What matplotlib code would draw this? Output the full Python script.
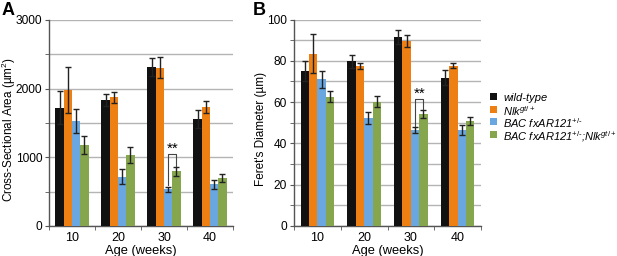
import matplotlib
matplotlib.use("Agg")
import matplotlib.pyplot as plt
from matplotlib.patches import Rectangle
import numpy as np

plt.rcParams['font.family'] = ['Liberation Sans', 'DejaVu Sans']
plt.rcParams['mathtext.fontset'] = 'custom'
plt.rcParams['mathtext.rm'] = 'Liberation Sans'
plt.rcParams['mathtext.it'] = 'Liberation Sans:italic'

ages = [10, 20, 30, 40]
series = ["wild-type", "Nlk$^{\\mathit{gt/+}}$", "BAC fxAR121$^{\\mathit{+/\u2010}}$",
          "BAC fxAR121$^{\\mathit{+/\u2010}}$;Nlk$^{\\mathit{gt/+}}$"]
colors = ["#111111", "#EE7F12", "#6AA6E0", "#86A64E"]

# Panel A: cross-sectional area
area_wt = [1720, 1835, 2320, 1565]
area_wt_err = [240, 92, 132, 131]
area_nlk = [1980, 1874, 2308, 1738]
area_nlk_err = [340, 77, 146, 87]
area_bac = [1533, 718, 534, 607]
area_bac_err = [175, 105, 35, 70]
area_dbl = [1180, 1038, 796, 695]
area_dbl_err = [130, 115, 65, 60]

# Panel B: Feret's diameter
fer_wt = [75.0, 79.7, 91.6, 71.9]
fer_wt_err = [5.0, 3.0, 3.5, 3.5]
fer_nlk = [83.5, 77.4, 89.5, 77.7]
fer_nlk_err = [9.3, 1.5, 3.0, 1.3]
fer_bac = [71.0, 52.4, 46.4, 46.4]
fer_bac_err = [4.0, 3.0, 1.6, 2.4]
fer_dbl = [62.7, 60.2, 54.2, 50.8]
fer_dbl_err = [2.8, 2.8, 2.0, 1.8]

W, H = 617, 256
fig = plt.figure(figsize=(W / 100, H / 100), dpi=100)


def px_axes(x0, x1, ytop, ybot):
    return fig.add_axes([x0 / W, 1 - ybot / H, (x1 - x0) / W, (ybot - ytop) / H])


def panel(ax, vals, errs, ymax, ystep_grid, ystep_label, ylabel, ylab_x, sig):
    x = np.array(ages, dtype=float)
    bw = 1.8
    offs = [-1.5 * bw, -0.5 * bw, 0.5 * bw, 1.5 * bw]
    for v, e, c, o in zip(vals, errs, colors, offs):
        ax.bar(x + o, v, width=bw, color=c, zorder=3)
        ax.errorbar(x + o, v, yerr=e, fmt='none', ecolor='#222222',
                    elinewidth=1.0, capsize=2.2, capthick=1.0, zorder=4)
    ax.set_xlim(5, 45)
    ax.set_ylim(0, ymax)
    ax.set_yticks(np.arange(0, ymax + 1e-9, ystep_grid), minor=True)
    ax.set_yticks(np.arange(0, ymax + 1e-9, ystep_label))
    ax.yaxis.grid(True, which='both', color='#b4b4b4', lw=1.0, zorder=0)
    ax.set_xticks(ages)
    ax.set_xticks([5, 15, 25, 35, 45], minor=True)
    ax.tick_params(axis='x', which='major', length=0, labelsize=9, pad=4)
    ax.tick_params(axis='x', which='minor', length=3, color='#555555')
    ax.tick_params(axis='y', which='both', length=3, color='#555555', labelsize=8.6, pad=2)
    for s in ['top', 'right']:
        ax.spines[s].set_visible(False)
    for s in ['left', 'bottom']:
        ax.spines[s].set_color('#555555')
        ax.spines[s].set_linewidth(1.0)
    ax.set_xlabel("Age (weeks)", fontsize=9.3)
    ax.xaxis.set_label_coords(0.5, (226 - 245) / 206)
    ax.set_ylabel(ylabel, fontsize=8.5, va='center')
    ax.yaxis.set_label_coords(ylab_x, 0.47)
    # significance bracket at 30 weeks between BAC and double
    xl = 30 + offs[2]
    xr = 30 + offs[3]
    yl, yr, ytop, ytxt = sig
    ax.plot([xl, xl, xr, xr], [yl, ytop, ytop, yr], color='#444444', lw=0.8, zorder=5)
    ax.text((xl + xr) / 2, ytxt, "**", ha='center', va='center', fontsize=11, zorder=6)


axA = px_axes(49, 233, 20, 226)
panel(axA,
      [area_wt, area_nlk, area_bac, area_dbl],
      [area_wt_err, area_nlk_err, area_bac_err, area_dbl_err],
      3000, 500, 1000, "Cross-Sectional Area (µm$^2$)", (8.5 - 49) / 184,
      (590, 880, 1050, 1120))

axB = px_axes(294, 481, 19.5, 226)
panel(axB,
      [fer_wt, fer_nlk, fer_bac, fer_dbl],
      [fer_wt_err, fer_nlk_err, fer_bac_err, fer_dbl_err],
      100, 10, 20, "Feret's Diameter (µm)", (261 - 294) / 187,
      (48.5, 56.6, 61.6, 64.0))

fig.text(2 / W, 1 - 2 / H, "A", fontsize=13, fontweight='bold', va='top', ha='left')
fig.text(253 / W, 1 - 2 / H, "B", fontsize=13, fontweight='bold', va='top', ha='left')

# legend drawn as squares + text in figure pixel positions
leg_x, leg_y0, leg_dy, sq = 490, 96.5, 12.7, 7
for i, (lab, c) in enumerate(zip(series, colors)):
    yc = leg_y0 + i * leg_dy
    fig.patches.append(Rectangle((leg_x / W, 1 - (yc + sq / 2) / H), sq / W, sq / H,
                                 transform=fig.transFigure, facecolor=c,
                                 edgecolor='none'))
    fig.text((leg_x + sq + 6) / W, 1 - (yc + 0.5) / H, lab, fontsize=8.0,
             style='italic', va='center_baseline', ha='left')

fig.savefig("out.png", dpi=100)
